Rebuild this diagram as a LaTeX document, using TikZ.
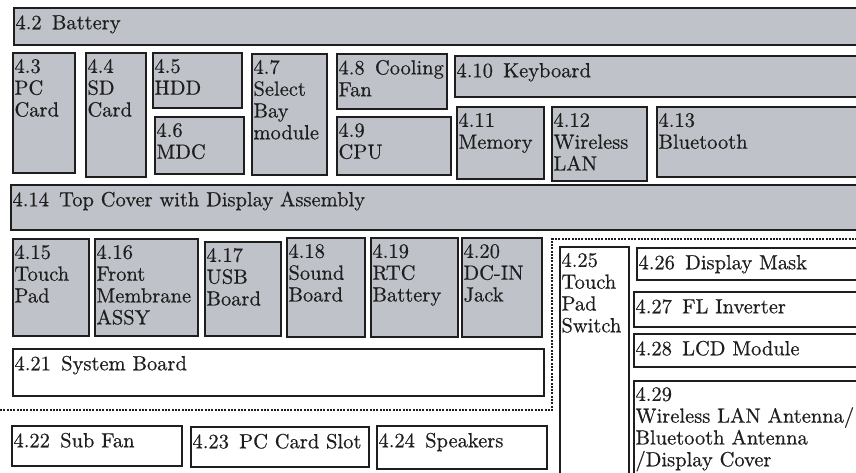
\documentclass[tikz,border=0pt]{standalone}
\usepackage{fontspec}
\newfontfamily\lblfont{lmroman10-regular}[Extension=.otf, FakeBold=0.5]
\usepackage{xcolor}
\definecolor{boxgray}{HTML}{BFC3C9}
\definecolor{ink}{HTML}{1E1E1E}
\tikzset{
 boxbase/.style={draw=ink, line width=2.2pt, inner sep=0pt, outer sep=0pt, anchor=north west},
 gbox/.style={boxbase, fill=boxgray},
 wbox/.style={boxbase, fill=white},
 lbl/.style={anchor=north west, inner sep=0pt, outer sep=0pt, align=left, text=ink,
   font=\lblfont\fontsize{20.5}{21.8}\selectfont, execute at begin node=\strut},
 region/.style={draw=ink, line width=2.5pt, dash pattern=on 2pt off 1.3pt},
}
\newcommand\mkbox[7]{%
 \node[#2, minimum width={#5pt-#3pt}, minimum height={#6pt-#4pt}] (#1) at (#3,#4) {};
 \node[lbl] (#1t) at ([xshift=1.5pt,yshift=-6pt]#1.north west) {#7};}
\begin{document}
\begin{tikzpicture}[x=1pt,y=-1pt]
\useasboundingbox (0,0) rectangle (856,473);
\clip (0,0) rectangle (856,473);
\fill[white] (0,0) rectangle (856,473);
% region boundary
\coordinate (r1) at (0,410);
\coordinate (r2) at (552,410);
\coordinate (r3) at (552,239);
\coordinate (r4) at (862,239);
\draw[region] (r1) -- (r2) -- (r3) -- (r4);
% grey boxes
\mkbox{b42}{gbox}{14}{8}{862}{45}{4.2\enspace Battery}
\mkbox{b43}{gbox}{13}{53}{75}{173}{4.3\\PC\\Card}
\mkbox{b44}{gbox}{86}{53}{146}{177}{4.4\\SD\\Card}
\mkbox{b45}{gbox}{153}{53}{242}{108}{4.5\\HDD}
\mkbox{b46}{gbox}{155}{117}{244}{174}{4.6\\MDC}
\mkbox{b47}{gbox}{252}{54}{327}{175}{4.7\\Select\\Bay\\module}
\mkbox{b48}{gbox}{337}{54}{447}{109}{4.8\enspace Cooling\\Fan}
\mkbox{b49}{gbox}{337}{117}{451}{175}{4.9\\CPU}
\mkbox{b410}{gbox}{455}{56}{862}{97}{4.10\enspace Keyboard}
\mkbox{b411}{gbox}{457}{107}{544}{179}{4.11\\Memory}
\mkbox{b412}{gbox}{552}{107}{647}{181}{4.12\\Wireless\\LAN}
\mkbox{b413}{gbox}{657}{107}{862}{177}{4.13\\Bluetooth}
\mkbox{b414}{gbox}{11}{185}{862}{230}{4.14\enspace Top Cover with Display Assembly}
\mkbox{b415}{gbox}{13}{239}{89}{336}{4.15\\Touch\\Pad}
\mkbox{b416}{gbox}{95}{239}{198}{336}{4.16\\Front\\Membrane\\ASSY}
\mkbox{b417}{gbox}{205}{242}{281}{336}{4.17\\USB\\Board}
\mkbox{b418}{gbox}{287}{238}{365}{337}{4.18\\Sound\\Board}
\mkbox{b419}{gbox}{371}{238}{458}{337}{4.19\\RTC\\Battery}
\mkbox{b420}{gbox}{462}{238}{542}{337}{4.20\\DC-IN\\Jack}
% white boxes
\mkbox{b421}{wbox}{13}{349}{544}{396}{4.21\enspace System Board}
\mkbox{b422}{wbox}{12}{426}{182}{466}{4.22\enspace Sub Fan}
\mkbox{b423}{wbox}{191}{427}{369}{467}{4.23\enspace PC Card Slot}
\mkbox{b424}{wbox}{377}{426}{547}{469}{4.24\enspace Speakers}
\mkbox{b425}{wbox}{560}{247}{629}{485}{4.25\\Touch\\Pad\\Switch}
\mkbox{b426}{wbox}{637}{248}{862}{280}{4.26\enspace Display Mask}
\mkbox{b427}{wbox}{634}{292}{862}{327}{4.27\enspace FL Inverter}
\mkbox{b428}{wbox}{634}{334}{862}{367}{4.28\enspace LCD Module}
\mkbox{b429}{wbox}{634}{381}{862}{485}{4.29\\Wireless LAN Antenna/\\Bluetooth Antenna\\/Display Cover}
\end{tikzpicture}
\end{document}
